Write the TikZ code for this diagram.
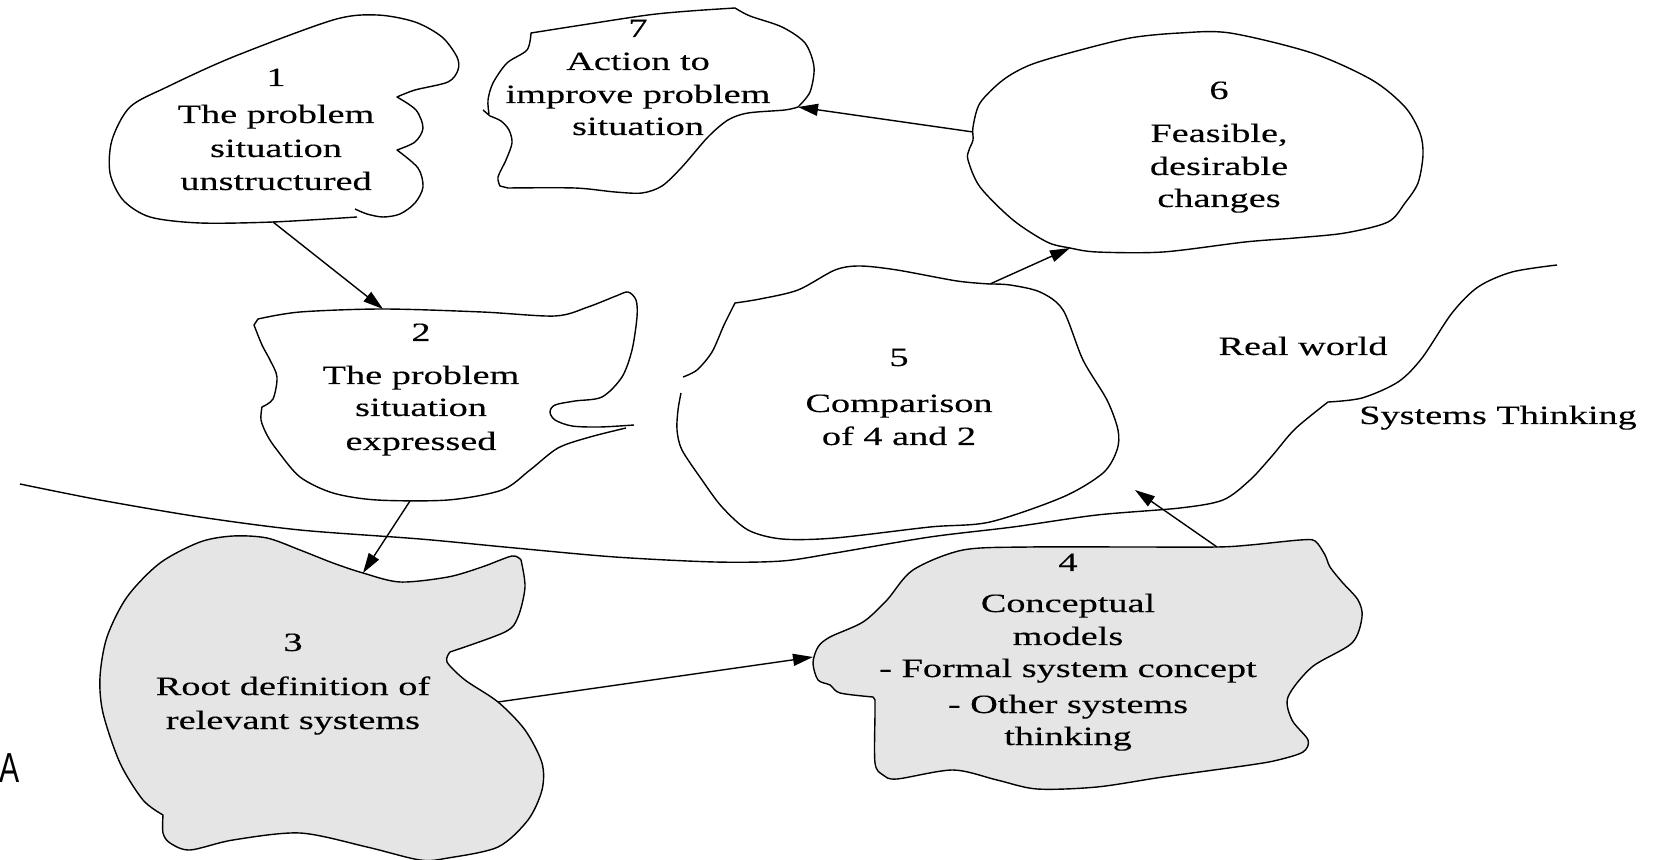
\documentclass[tikz,border=0pt]{standalone}
\usepackage{fontspec}
\setmainfont{Liberation Serif}[FakeStretch=1.45,FakeBold=0.3]
\newfontfamily\labelfont{Liberation Sans}[FakeStretch=0.72]
\usetikzlibrary{arrows.meta}
\definecolor{shapegray}{HTML}{E5E5E5}
\begin{document}
\begin{tikzpicture}[x=0.5pt,y=-0.5pt,
  outline/.style={draw=black, line width=0.7pt, line join=round},
  grayfill/.style={outline, fill=shapegray},
  arr/.style={-{Triangle[length=10pt,width=6pt]}, line width=0.7pt},
  txt/.style={anchor=base, inner sep=0pt, font=\fontsize{13.2pt}{16.5pt}\selectfont}]
\useasboundingbox (0,0) rectangle (1665,860);

% boundary between real world and systems thinking
\draw[outline] plot[smooth] coordinates {(20,484) (100,500) (200,517) (300,530) (420,539) (515,548) (615,557) (715,562) (782,561) (835,553) (930,537) (1013,527) (1097,515) (1180,508) (1223,500) (1250,480) (1272,456) (1295,429) (1328,402)}
  -- plot[smooth] coordinates {(1328,402) (1362,398) (1398,382) (1422,358) (1452,313) (1478,287) (1512,272) (1557,265)};

% shape 1
\draw[outline] plot[smooth] coordinates {(355,209) (367,214) (383,217) (400,214) (415,203) (423,187) (418,168) (397,150)}
  -- plot[smooth] coordinates {(397,150) (415,142) (423,128) (416,110) (397,97)}
  -- plot[smooth] coordinates {(397,97) (415,90) (448,82) (458,70) (457,57) (442,37) (415,22) (377,15) (333,20) (233,57) (167,87) (130,107) (112,140) (110,173) (123,200) (150,217) (200,223) (273,222) (357,217)};

% shape 7
\draw[outline] (483,110) -- plot[smooth] coordinates {(490,116) (501,121) (509,130) (512,143) (506,160) (498,177) (500,186)}
  -- plot[smooth] coordinates {(508,188) (575,188) (615,192) (642,193) (662,186) (682,167) (708,137) (728,120) (748,113) (785,110) (798,107)}
  -- plot[smooth] coordinates {(798,107) (810,92) (814,67) (805,43) (782,27) (750,16) (735,8)}
  -- plot[smooth] coordinates {(735,8) (690,11) (648,15) (582,25) (531,33)}
  -- plot[smooth] coordinates {(531,33) (527,50) (507,63) (493,83) (488,100) (489,114)};

% shape 6
\draw[outline] plot[smooth cycle] coordinates {(973,127) (980,103) (1003,80) (1030,65) (1073,52) (1130,38) (1180,33) (1230,33) (1312,53) (1372,80) (1405,107) (1420,133) (1423,155) (1418,183) (1405,203) (1388,222) (1345,233) (1295,238) (1245,242) (1163,252) (1097,252) (1070,248) (1047,242) (1013,220) (980,187) (968,160) (969,150) (973,140)};

% shape 2
\draw[outline] plot[smooth] coordinates {(634,425) (600,427) (572,426) (555,420) (550,412) (555,405) (575,401) (602,397) (622,377) (632,350) (637,317) (636,300) (628,292) (616,296) (588,307) (555,316) (482,312) (383,309) (300,312) (258,319)}
  -- plot[smooth] coordinates {(254,325) (262,345) (270,360) (277,377) (273,399) (262,407)}
  -- plot[smooth] coordinates {(262,407) (261,420) (267,435) (277,450) (300,477) (333,493) (377,500) (448,500) (502,490) (530,470) (558,448) (590,437) (626,428)};

% shape 5
\draw[outline] plot[smooth] coordinates {(681,393) (678,410) (677,430) (682,450) (702,480) (722,507) (748,530) (782,539) (835,538) (930,527) (990,522) (1063,497) (1103,473) (1117,450) (1118,430) (1107,400) (1083,360) (1063,310) (1040,292) (1010,285) (990,284)}
  -- plot[smooth] coordinates {(990,284) (957,281) (897,270) (860,266) (835,270) (798,290) (760,299) (735,303)}
  -- plot[smooth] coordinates {(735,303) (724,325) (712,352) (697,370) (683,377)};

% shape 3
\draw[grayfill] plot[smooth] coordinates {(163,815) (143,800) (120,763) (103,713) (100,677) (107,637) (127,597) (160,563) (200,542) (233,536) (267,538) (300,550) (333,563) (363,573) (400,582) (448,577) (482,567) (512,556) (521,560)}
  -- plot[smooth] coordinates {(521,560) (525,587) (518,617) (505,632) (450,652)}
  -- plot[smooth] coordinates {(450,652) (447,662) (465,680) (498,702) (525,730) (542,763) (542,790) (528,820) (498,847) (448,858) (420,860) (367,847) (300,833) (233,840) (190,850) (170,843) (163,833) (163,815)} -- cycle;

% shape 4
\draw[grayfill] plot[smooth] coordinates {(873,697) (840,693) (830,685) (818,680) (813,663) (818,647) (830,637) (863,622) (887,600) (913,570) (963,550) (1030,547) (1130,547) (1217,547) (1250,545) (1300,540) (1315,541) (1325,555) (1330,567) (1342,582) (1358,600) (1362,617) (1352,643) (1312,667) (1288,697) (1292,720) (1308,740) (1303,752) (1278,760) (1250,765) (1163,777) (1097,787) (1037,789) (997,780) (953,770) (897,779) (883,775) (875,763) (875,713) (875,700)} -- cycle;

% arrow end points on the outlines
\coordinate (s1) at (273,222);
\coordinate (e2) at (383,309);
\coordinate (s2) at (410,501);
\coordinate (e3) at (363,573);
\coordinate (s3) at (498,702);
\coordinate (e4) at (813,657);
\coordinate (s4) at (1217,547);
\coordinate (e5) at (1135,490);
\coordinate (s5) at (990,284);
\coordinate (e6) at (1070,248);
\coordinate (s6) at (973,132);
\coordinate (e7) at (798,107);

\draw[arr] (s1) -- (e2);
\draw[arr] (s2) -- (e3);
\draw[arr] (s3) -- (e4);
\draw[arr] (s4) -- (e5);
\draw[arr] (s5) -- (e6);
\draw[arr] (s6) -- (e7);

% texts
\node[txt] (n1) at (276,86) {1};
\node[txt] (t1a) at (276,123) {The problem};
\node[txt] (t1b) at (276,157) {situation};
\node[txt] (t1c) at (276,190) {unstructured};

\node[txt] (n7) at (638,37) {7};
\node[txt] (t7a) at (638,70) {Action to};
\node[txt] (t7b) at (638,103) {improve problem};
\node[txt] (t7c) at (638,135) {situation};

\node[txt] (n6) at (1219,99) {6};
\node[txt] (t6a) at (1219,142) {Feasible,};
\node[txt] (t6b) at (1219,175) {desirable};
\node[txt] (t6c) at (1219,207) {changes};

\node[txt] (n2) at (421,341) {2};
\node[txt] (t2a) at (421,384) {The problem};
\node[txt] (t2b) at (421,416) {situation};
\node[txt] (t2c) at (421,450) {expressed};

\node[txt] (n5) at (899,366) {5};
\node[txt] (t5a) at (899,412) {Comparison};
\node[txt] (t5b) at (899,445) {of 4 and 2};

\node[txt] (n4) at (1068,571) {4};
\node[txt] (t4a) at (1068,612) {Conceptual};
\node[txt] (t4b) at (1068,645) {models};
\node[txt] (t4c) at (1068,677) {- Formal system concept};
\node[txt] (t4d) at (1068,713) {- Other systems};
\node[txt] (t4e) at (1068,745) {thinking};

\node[txt] (n3) at (293,651) {3};
\node[txt] (t3a) at (293,695) {Root definition of};
\node[txt] (t3b) at (293,729) {relevant systems};

\node[txt] (rw) at (1303,355) {Real world};
\node[txt] (st) at (1498,424) {Systems Thinking};

\node[anchor=base, inner sep=0pt, font=\labelfont\fontsize{21pt}{21pt}\selectfont] (lblA) at (10,782) {A};
\end{tikzpicture}
\end{document}
